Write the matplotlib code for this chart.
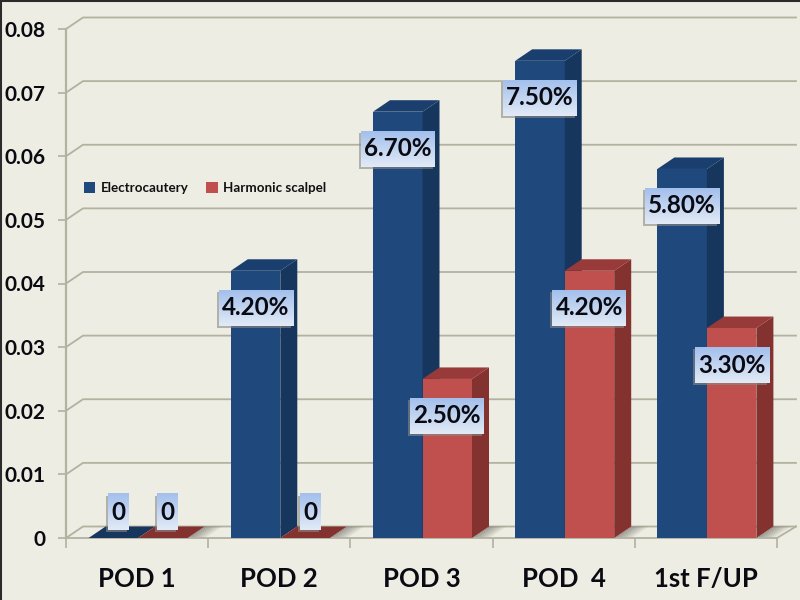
import numpy as np
import matplotlib
matplotlib.use("Agg")
import matplotlib.pyplot as plt
from matplotlib.patches import Polygon, Rectangle, Patch

categories = ["POD 1", "POD 2", "POD 3", "POD  4", "1st F/UP"]
electrocautery = [0, 0.042, 0.067, 0.075, 0.058]
harmonic = [0, 0, 0.025, 0.042, 0.033]
electro_labels = ["0", "4.20%", "6.70%", "7.50%", "5.80%"]
harmonic_labels = ["0", "0", "2.50%", "4.20%", "3.30%"]
y_ticks = [0, 0.01, 0.02, 0.03, 0.04, 0.05, 0.06, 0.07, 0.08]
y_tick_labels = ["0", "0.01", "0.02", "0.03", "0.04", "0.05", "0.06", "0.07", "0.08"]

plt.rcParams["font.family"] = ["Lato", "DejaVu Sans"]
BG = "#edede3"
GRID = "#b3b1a0"
BLUE = ("#1f497d", "#17365d", "#1a3f6e")
RED = ("#c0504d", "#843230", "#98393a")

fig = plt.figure(figsize=(8, 6), dpi=100, facecolor=BG)
ax = fig.add_axes([66 / 800, 1 - 538 / 600, 711 / 800, 509 / 600])
ax.set_facecolor("none")
ax.set_xlim(0, 5)
ax.set_ylim(0, 0.08)

# pixels to data units
PX = 5 / 711
PY = 0.08 / 509
dx = 17 * PX
dy = 11.5 * PY
bar_w = 49.5 * PX
nudge = 1 * PX

# back wall grid
for t in y_ticks:
    ax.plot([0, dx, 5 + 19 * PX], [t, t + dy, t + dy], color=GRID, lw=1.3, clip_on=False, zorder=1)
ax.plot([5, 5 + 19 * PX], [0, dy], color=GRID, lw=1.3, clip_on=False, zorder=1)


def draw_shadow(x):
    # soft shadow on the floor, right of a bar
    n = 10
    w = 18 * PX
    for k in range(n):
        x0 = x + w * k / n
        x1 = x + w * (k + 1) / n
        ax.add_patch(Polygon([(x0, 0), (x0 + dx, dy), (x1 + dx, dy), (x1, 0)], fc="#77776e", ec="none",
                             alpha=0.75 * (1 - k / n), zorder=2, clip_on=False))


def draw_bar(x, h, cols, z):
    if h > 0:
        ax.add_patch(Rectangle((x, 0), bar_w, h, fc=cols[0], ec="none", zorder=z))
        ax.add_patch(Polygon([(x + bar_w, 0), (x + bar_w + dx, dy), (x + bar_w + dx, h + dy), (x + bar_w, h)],
                             fc=cols[1], ec="none", zorder=z, clip_on=False))
    ax.add_patch(Polygon([(x, h), (x + dx, h + dy), (x + bar_w + dx, h + dy), (x + bar_w, h)],
                         fc=cols[2] if h > 0 else cols[1], ec="none", zorder=z, clip_on=False))


def draw_label(cx, cy, txt):
    w = 21 if txt == "0" else 74
    hw = w * PX / 2
    hh = 18 * PY
    ax.add_patch(Rectangle((cx - hw - 2 * PX, cy - hh - 2 * PY), w * PX, 36 * PY, fc="#8a8a84", ec="none",
                           alpha=0.6, zorder=9, clip_on=False))
    grad = np.linspace(0, 1, 32).reshape(-1, 1)
    ax.imshow(grad, extent=(cx - hw, cx + hw, cy - hh, cy + hh), origin="upper", aspect="auto",
              cmap=matplotlib.colors.LinearSegmentedColormap.from_list("lab", ["#a3c0ec", "#e2eaf6"]),
              zorder=10, clip_on=False)
    ax.text(cx, cy, txt, ha="center", va="center", fontsize=17.5, fontweight="bold", color="#0a0a12", zorder=11)


for i in range(len(categories)):
    draw_shadow(i + 0.5 + nudge + bar_w)
    draw_bar(i + 0.5 + nudge - bar_w, electrocautery[i], BLUE, 3)
    draw_bar(i + 0.5 + nudge, harmonic[i], RED, 4)

for i in range(len(categories)):
    for x, h, txt in [(i + 0.5 + nudge - bar_w / 2, electrocautery[i], electro_labels[i]),
                      (i + 0.5 + nudge + bar_w / 2, harmonic[i], harmonic_labels[i])]:
        if h > 0:
            draw_label(x, h - 37 * PY, txt)
        else:
            draw_label(x + 5 * PX, 26 * PY, txt)

ax.set_xlim(0, 5)
ax.set_ylim(0, 0.08)
ax.set_xticks(range(6))
ax.set_xticklabels([])
ax.set_xticks(np.arange(5) + 0.5, labels=categories, minor=True)
ax.tick_params(axis="x", which="minor", length=0, pad=21, labelsize=18.5)
ax.tick_params(axis="x", which="major", length=7.5, color=GRID, width=1.2)
ax.set_yticks(y_ticks, labels=y_tick_labels)
ax.tick_params(axis="y", length=6, color=GRID, width=1.2, labelsize=15, pad=9)
for lab in ax.get_xticklabels(minor=True) + ax.get_yticklabels():
    lab.set_fontweight("bold")
    lab.set_color("#0a0a12")
for side in ["top", "right"]:
    ax.spines[side].set_visible(False)
ax.spines["left"].set_color(GRID)
ax.spines["left"].set_linewidth(1.6)
ax.spines["bottom"].set_color(GRID)
ax.spines["bottom"].set_linewidth(1.3)

handles = [Patch(fc=BLUE[0], label="Electrocautery"), Patch(fc=RED[0], label="Harmonic scalpel")]
ax.legend(handles=handles, ncol=2, frameon=False, loc="center left", bbox_to_anchor=(18 / 711, 350 / 509),
          borderaxespad=0, borderpad=0, handlelength=0.85, handleheight=0.85, handletextpad=0.4, columnspacing=1.35,
          prop={"size": 9.6, "weight": "bold"}, labelcolor="#111111")

# dark frame on top and left of the picture
fig.add_artist(plt.Line2D([0, 0], [0, 1], color="#2b2b2b", lw=2.2))
fig.add_artist(plt.Line2D([0, 1], [1, 1], color="#2b2b2b", lw=2.2))

fig.savefig("out.png", dpi=100, facecolor=BG)
